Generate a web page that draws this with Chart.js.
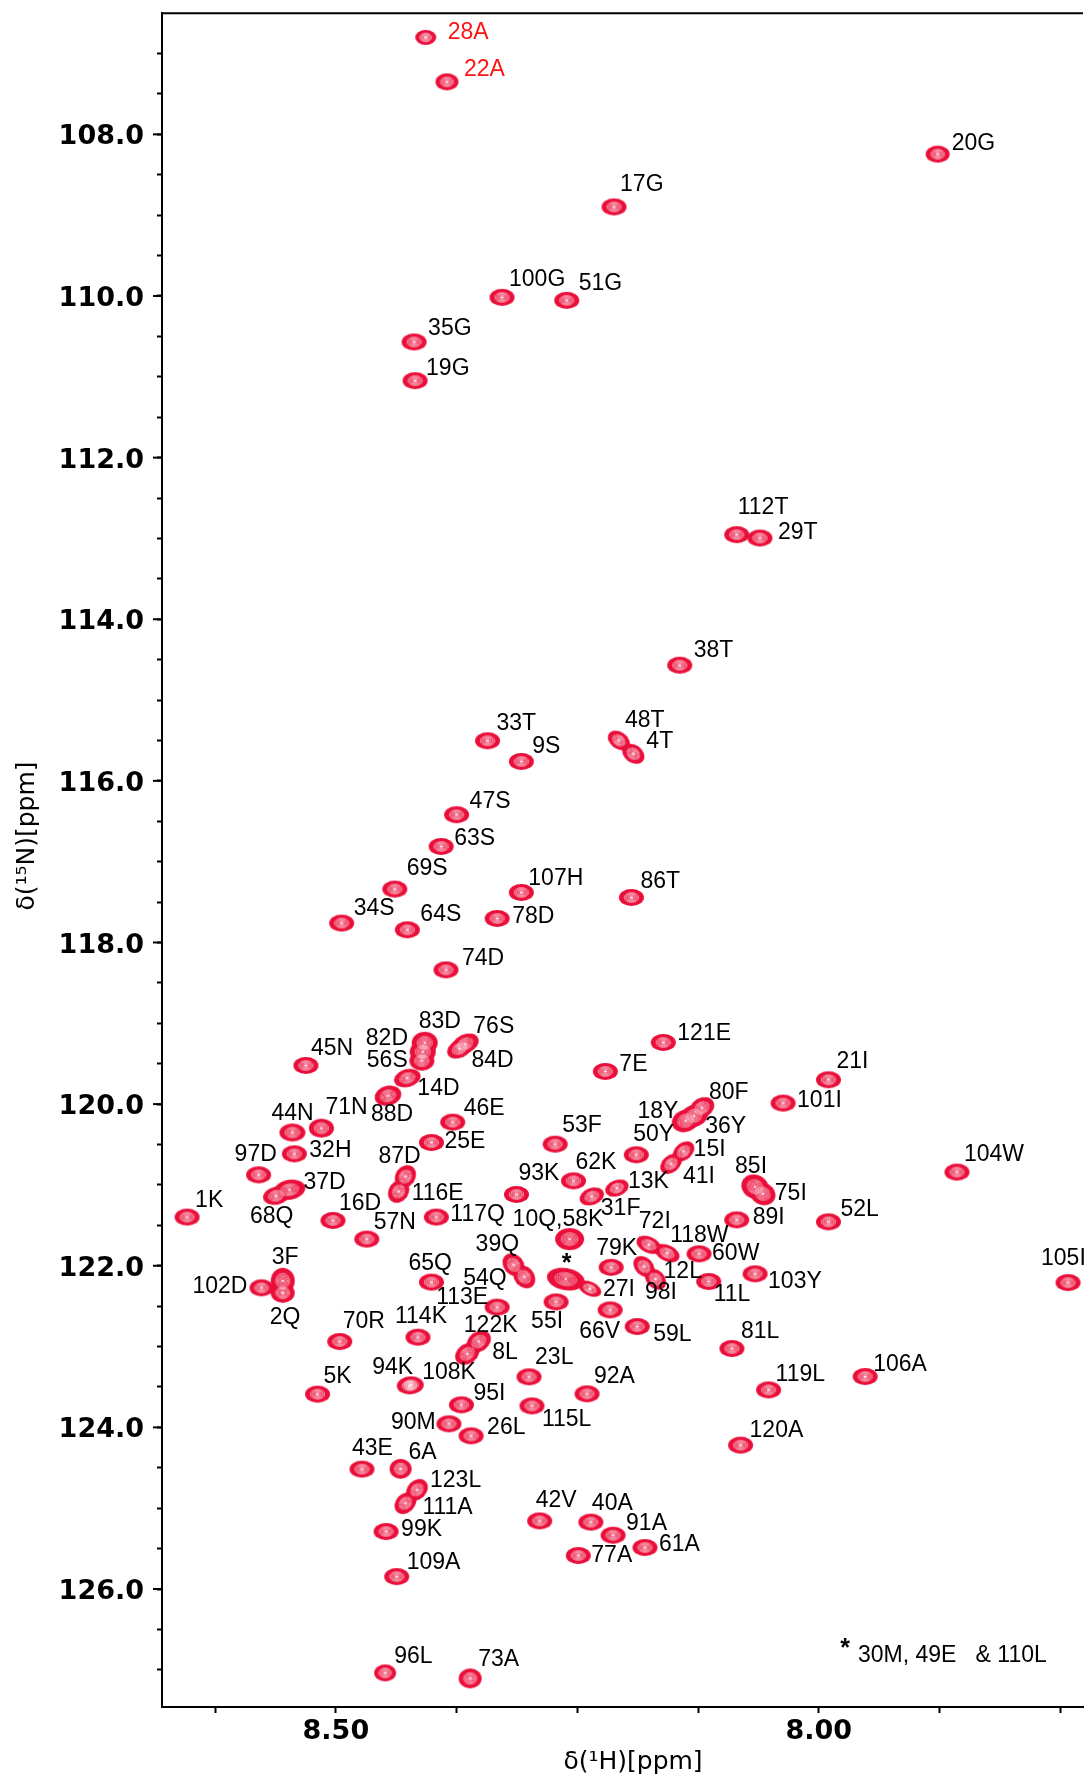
<!DOCTYPE html>
<html><head><meta charset="utf-8">
<script src="https://cdn.jsdelivr.net/npm/chart.js@4.4.1/dist/chart.umd.min.js"></script>
<style>html,body{margin:0;padding:0;background:#fff;overflow:hidden}canvas{display:block}</style>
</head><body>
<canvas id="c" width="1088" height="1780"></canvas>
<script>
// ---------- DATA ----------
const residues = ['28A','22A','20G','17G','100G','51G','35G','19G','112T','29T',
 '38T','33T','9S','48T','4T','47S','63S','69S','107H','86T',
 '34S','64S','78D','74D','45N','83D','82D','56S','76S','84D',
 '14D','88D','44N','71N','32H','97D','37D','68Q','1K','16D',
 '57N','46E','25E','87D','116E','117Q','93K','65Q','39Q','54Q',
 '3F','102D','2Q','113E','70R','114K','122K','8L','5K','94K',
 '108K','95I','90M','26L','115L','23L','43E','6A','123L','111A',
 '99K','109A','96L','73A','42V','40A','91A','61A','77A','55I',
 '66V','59L','81L','92A','119L','106A','120A','104W','105I','52L',
 '121E','7E','21I','101I','80F','18Y','36Y','53F','50Y','15I',
 '41I','62K','31F','13K','85I','75I','89I','10Q,58K','72I','118W',
 '60W','79K','98I','12L','103Y','11L','*','27I'];

const shiftH = [8.407,8.385,7.877,8.212,8.328,8.261,8.419,8.418,8.085,8.061,
 8.144,8.343,8.308,8.207,8.192,8.375,8.391,8.439,8.308,8.194,
 8.494,8.426,8.333,8.386,8.531,8.408,8.410,8.411,8.366,8.372,
 8.426,8.446,8.545,8.515,8.543,8.580,8.548,8.562,8.654,8.503,
 8.468,8.379,8.401,8.428,8.435,8.396,8.313,8.401,8.316,8.305,
 8.555,8.577,8.555,8.333,8.496,8.415,8.352,8.364,8.519,8.424,
 8.422,8.370,8.383,8.360,8.297,8.300,8.473,8.433,8.416,8.428,
 8.448,8.437,8.449,8.361,8.289,8.236,8.213,8.180,8.249,8.272,
 8.216,8.188,8.090,8.240,8.052,7.952,8.081,7.857,7.742,7.990,
 8.161,8.221,7.990,8.037,8.121,8.138,8.129,8.273,8.189,8.140,
 8.153,8.254,8.235,8.209,8.066,8.058,8.085,8.258,8.176,8.157,
 8.124,8.215,8.181,8.169,8.066,8.114,8.262,8.237];

const shiftN = [106.80,107.35,108.245,108.898,110.017,110.054,110.569,111.048,112.953,112.995,
 114.569,115.504,115.760,115.500,115.665,116.419,116.812,117.339,117.381,117.443,
 117.760,117.843,117.703,118.338,119.522,119.241,119.352,119.463,119.254,119.316,
 119.678,119.897,120.351,120.297,120.615,120.875,121.060,121.135,121.398,121.440,
 121.670,120.223,120.475,120.896,121.081,121.398,121.118,122.203,121.989,122.137,
 122.187,122.273,122.335,122.512,122.938,122.884,122.938,123.090,123.589,123.486,
 123.474,123.721,123.956,124.105,123.734,123.375,124.517,124.513,124.773,124.938,
 125.289,125.846,127.038,127.106,125.157,125.173,125.334,125.487,125.586,122.447,
 122.546,122.752,123.024,123.585,123.536,123.371,124.220,120.841,122.208,121.457,
 119.237,119.596,119.699,119.987,120.046,120.206,120.145,120.495,120.627,120.586,
 120.739,120.949,121.143,121.039,121.023,121.110,121.432,121.670,121.741,121.844,
 121.853,122.020,122.010,122.166,122.100,122.195,122.166,122.284];

const redResidues = ['28A','22A'];
const footnote = '30M, 49E   & 110L';

const xTickValues = [7.75,7.875,8.0,8.125,8.25,8.375,8.5,8.625];
const xMajorValues = [8.5,8.0];
const xTickLabels = ['8.50','8.00'];
const yTickValues = [107,107.5,108,108.5,109,109.5,110,110.5,111,111.5,112,112.5,113,113.5,
 114,114.5,115,115.5,116,116.5,117,117.5,118,118.5,119,119.5,120,120.5,121,121.5,
 122,122.5,123,123.5,124,124.5,125,125.5,126,126.5,127];
const yMajorValues = [108,110,112,114,116,118,120,122,124,126];
const yTickLabels = ['108.0','110.0','112.0','114.0','116.0','118.0','120.0','122.0','124.0','126.0'];
const xTitle = 'δ(¹H)[ppm]';
const yTitle = 'δ(¹⁵N)[ppm]';

// ---------- LAYOUT / STYLE ----------
const labelOffsets = [[22,-5],[17,-12],[14,-10],[6,-22],[7,-18],[12,-17],[14,-13],[11,-12],[1,-27],[18,-5],
 [14,-15],[9,-17],[11,-15],[6,-20],[13,-12],[13,-13],[13,-8],[12,-20],[7,-14],[9,-16],
 [12,-14],[13,-15],[15,-2],[16,-11],[5,-17],[-6,-21],[-57,-13],[-55,0],[8,-17],[12,12],
 [10,11],[-17,19],[-21,-19],[4,-20],[15,-3],[-24,-20],[14,-7],[-26,21],[8,-16],[6,-17],
 [7,-16],[11,-13],[13,-1],[-27,-20],[13,2],[14,-2],[2,-21],[-23,-19],[-38,-20],[-61,2],
 [-11,-23],[-69,-1],[-13,25],[-61,-9],[3,-20],[-23,-21],[-15,-16],[25,-1],[6,-18],[-37,-18],
 [11,-12],[12,-11],[-58,-1],[16,-8],[10,14],[6,-19],[-10,-21],[8,-16],[13,-9],[17,4],
 [15,-2],[10,-14],[9,-16],[8,-19],[-4,-20],[1,-19],[13,-12],[14,-3],[13,0],[-25,20],
 [-31,22],[16,8],[9,-17],[7,-17],[7,-15],[8,-12],[9,-15],[7,-17],[-27,-24],[12,-12],
 [14,-9],[14,-7],[8,-18],[14,-2],[7,-15],[-48,-9],[11,11],[7,-18],[-3,-20],[10,-2],
 [12,13],[2,-18],[9,12],[11,-6],[-20,-20],[12,0],[16,-2],[-57,-19],[-10,-23],[3,-17],
 [13,0],[-15,-19],[1,26],[8,-8],[13,8],[5,13],[-4,-15],[13,1]];

const defaultShape = [12.5, 8.5, 0];
const shapes = {
 '28A':[10.5,7.5,0],'22A':[11.5,8.5,0],'20G':[12,8.5,0],
 '83D':[13,11,0],'82D':[13,11,0],'56S':[12.5,10,0],
 '76S':[14,9.5,-25],'84D':[13,9,-25],'14D':[13.5,9,-15],'88D':[13.5,10,-15],
 '44N':[13,9,0],'71N':[12.5,9.5,0],'37D':[16,10,-10],'68Q':[13,9,-10],
 '87D':[12,10,-55],'116E':[12,10,-55],'39Q':[12.5,10,50],'54Q':[12.5,10,50],
 '3F':[12,13,0],'2Q':[12,10,0],'102D':[12,8.5,0],
 '122K':[13,10,-35],'8L':[13,10,-35],'123L':[12,9.5,-45],'111A':[12,9.5,-45],
 '80F':[13,10,-30],'18Y':[14,11,-20],'36Y':[14,11,-20],'15I':[12,8.5,-40],'41I':[12,8.5,-40],
 '85I':[14,12,25],'75I':[13,11,25],'10Q,58K':[14.5,11,0],'*':[19,11,10],'27I':[12,7,25],
 '12L':[12,9,45],'98I':[12,9,45],'72I':[13,8,25],'118W':[13,8,25],
 '13K':[12,8,-20],'31F':[12.5,8.5,-20],'48T':[12,8.5,35],'4T':[12,9,35],
 '73A':[11.5,10,0],'6A':[11,10,0],'96L':[11,8.5,0]
};
const PEAK_COLOR = '#ea0f3a';
const RING_SCALES = [0.58,0.47,0.37,0.27,0.17];
const LABEL_FONT = '23px "Liberation Sans", Arial, sans-serif';
const TICK_FONT_X = {family:'"DejaVu Sans", sans-serif', size:27, weight:'bold'};
const TICK_FONT_Y = {family:'"DejaVu Sans", sans-serif', size:27, weight:'bold', lineHeight:0.01};
const TITLE_FONT = '25px "DejaVu Sans", sans-serif';

function shapeOf(i){ return shapes[residues[i]] || defaultShape; }

function peakImage(rx, ry, part){
  const pad = 2;
  const c = document.createElement('canvas');
  c.width = Math.ceil(2*rx + 2*pad); c.height = Math.ceil(2*ry + 2*pad);
  const g = c.getContext('2d');
  const cx = c.width/2, cy = c.height/2;
  if (part === 'fill'){
    g.fillStyle = PEAK_COLOR;
    g.beginPath(); g.ellipse(cx, cy, rx, ry, 0, 0, Math.PI*2); g.fill();
  } else {
    g.strokeStyle = 'rgba(255,255,255,0.85)'; g.lineWidth = 0.6;
    RING_SCALES.forEach(s => { g.beginPath(); g.ellipse(cx, cy, rx*s, ry*s, 0, 0, Math.PI*2); g.stroke(); });
    g.fillStyle = '#fff';
    g.beginPath(); g.ellipse(cx, cy, 1.5, 1.0, 0, 0, Math.PI*2); g.fill();
  }
  return c;
}
const fillImgs = residues.map((r,i) => { const s = shapeOf(i); return peakImage(s[0], s[1], 'fill'); });
const ringImgs = residues.map((r,i) => { const s = shapeOf(i); return peakImage(s[0], s[1], 'ring'); });

const points = shiftH.map((h,i) => ({x:h, y:shiftN[i]}));

const overlay = {
  id:'overlay',
  afterDatasetsDraw(chart){
    const {ctx, chartArea:a} = chart;
    ctx.save();
    ctx.strokeStyle = '#000'; ctx.lineWidth = 2;
    ctx.beginPath(); ctx.moveTo(a.left-1, a.top); ctx.lineTo(a.right, a.top); ctx.stroke();
    // longer marks on the labelled y ticks
    const ys = chart.scales.y;
    yMajorValues.forEach(v => {
      const py = ys.getPixelForValue(v);
      ctx.beginPath(); ctx.moveTo(a.left - 9, py); ctx.lineTo(a.left, py); ctx.stroke();
    });
    const meta = chart.getDatasetMeta(1);
    ctx.textBaseline = 'middle'; ctx.textAlign = 'left';
    meta.data.forEach((pt,i) => {
      const name = residues[i];
      const off = labelOffsets[i];
      ctx.fillStyle = redResidues.includes(name) ? '#ff1414' : '#000';
      ctx.font = name === '*' ? 'bold 25px "Liberation Sans", Arial, sans-serif' : LABEL_FONT;
      ctx.fillText(name, pt.x + off[0], pt.y + off[1]);
    });
    // axis titles
    ctx.fillStyle = '#000'; ctx.font = TITLE_FONT; ctx.textAlign = 'center';
    ctx.fillText(xTitle, 633, 1762);
    ctx.save(); ctx.translate(27, 836); ctx.rotate(-Math.PI/2); ctx.fillText(yTitle, 0, 0); ctx.restore();
    // footnote
    ctx.font = 'bold 25px "Liberation Sans", Arial, sans-serif';
    ctx.fillText('*', 845, 1649);
    ctx.font = LABEL_FONT; ctx.textAlign = 'left';
    ctx.fillText(footnote, 858, 1656);
    ctx.restore();
  }
};

new Chart(document.getElementById('c'), {
  type:'scatter',
  data:{ datasets:[
    { data: points, order: 1, clip: false,
      pointStyle: ctx => ringImgs[ctx.dataIndex], pointRotation: ctx => shapeOf(ctx.dataIndex)[2],
      pointRadius: 3, backgroundColor:'rgba(0,0,0,0)', borderColor:'rgba(0,0,0,0)' },
    { data: points, order: 2, clip: false,
      pointStyle: ctx => fillImgs[ctx.dataIndex], pointRotation: ctx => shapeOf(ctx.dataIndex)[2],
      pointRadius: 3, backgroundColor:PEAK_COLOR, borderColor:PEAK_COLOR }
  ]},
  options:{
    responsive:false, devicePixelRatio:1, animation:false, events:[],
    layout:{ padding:{ top:13, left:0, right:0, bottom:0 } },
    plugins:{ legend:{display:false}, tooltip:{enabled:false} },
    scales:{
      x:{ type:'linear', reverse:true, min:7.7265, max:8.68,
        afterBuildTicks: ax => { ax.ticks = xTickValues.map(v => ({value:v})); },
        afterFit: s => { s.height = 73; },
        ticks:{ autoSkip:false, maxRotation:0, minRotation:0, padding:3, color:'#000', font:TICK_FONT_X,
          callback: v => { const k = xMajorValues.findIndex(m => Math.abs(m - v) < 1e-6); return k >= 0 ? xTickLabels[k] : ''; } },
        grid:{ display:true, drawOnChartArea:false, drawTicks:true, tickLength:6, tickWidth:2, tickColor:'#000', color:'#000' },
        border:{ display:true, color:'#000', width:2 },
        title:{ display:false }
      },
      y:{ type:'linear', reverse:true, min:106.5, max:127.46,
        afterBuildTicks: ax => { ax.ticks = yTickValues.map(v => ({value:v})); },
        afterFit: s => { s.width = 162; },
        ticks:{ autoSkip:false, padding:13, labelOffset:3, color:'#000', font:TICK_FONT_Y,
          callback: v => { const k = yMajorValues.findIndex(m => Math.abs(m - v) < 1e-6); return k >= 0 ? yTickLabels[k] : ''; } },
        grid:{ display:true, drawOnChartArea:false, drawTicks:true, tickLength:5, tickWidth:2, tickColor:'#000', color:'#000' },
        border:{ display:true, color:'#000', width:2 },
        title:{ display:false }
      }
    }
  },
  plugins:[overlay]
});
</script>
</body></html>
